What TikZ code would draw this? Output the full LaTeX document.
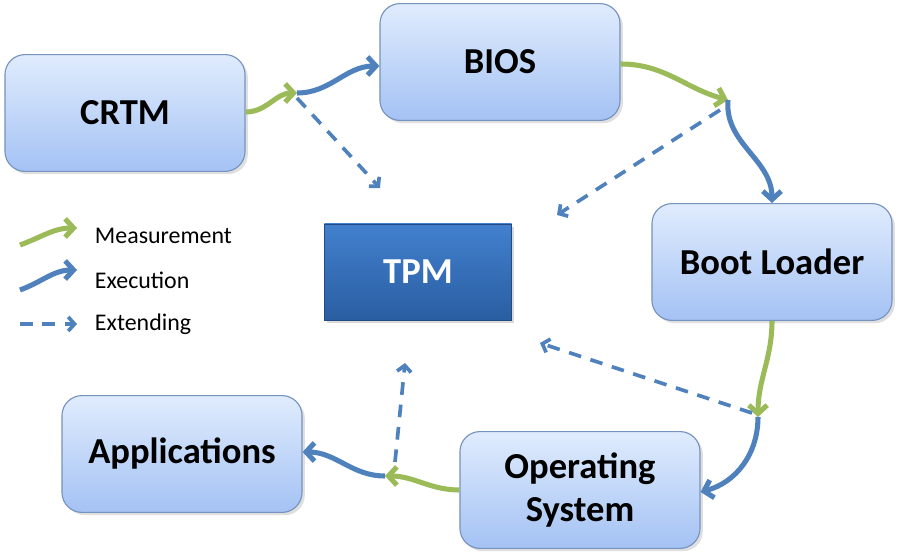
\documentclass[tikz,border=0pt]{standalone}
\usepackage{fontspec}
\setmainfont{Carlito}
\usetikzlibrary{arrows.meta,shadows}
\definecolor{measgreen}{RGB}{155,187,89}
\definecolor{execblue}{RGB}{79,129,189}
\definecolor{boxedge}{RGB}{118,146,190}
\definecolor{boxtop}{RGB}{224,236,253}
\definecolor{boxbot}{RGB}{164,194,244}
\definecolor{tpmtop}{RGB}{66,128,206}
\definecolor{tpmbot}{RGB}{42,94,162}
\tikzset{
  stage/.style={draw=boxedge, line width=0.8pt, rounded corners=0.5cm,
    top color=boxtop, bottom color=boxbot, minimum width=6cm, minimum height=2.92cm,
    align=center, font=\fontsize{26}{31}\selectfont\bfseries,
    drop shadow={opacity=0.25, shadow xshift=2pt, shadow yshift=-2pt}},
  tpmbox/.style={draw=tpmbot!80!black, line width=0.6pt, top color=tpmtop, bottom color=tpmbot,
    minimum width=4.675cm, minimum height=2.4cm, text=white,
    font=\fontsize{26}{30}\selectfont\bfseries,
    drop shadow={opacity=0.3, shadow xshift=2pt, shadow yshift=-2pt}},
  meas/.style={measgreen, line width=3.6pt, -{Straight Barb[length=6pt,width=13pt]}},
  exec/.style={execblue, line width=3.6pt, -{Straight Barb[length=6pt,width=13pt]}},
  extend/.style={execblue, line width=2.6pt, dash pattern=on 9pt off 7pt,
    -{Straight Barb[length=4.5pt,width=10pt]}},
  legtext/.style={anchor=west, font=\fontsize{17}{20}\selectfont}
}
\begin{document}
\begin{tikzpicture}[x=0.025cm,y=0.025cm]
  \useasboundingbox (0,0) rectangle (897,-556);
  %boxes
  \node[stage] (crtm) at (125,-113) {CRTM};
  \node[stage] (bios) at (500,-62) {BIOS};
  \node[stage] (boot) at (772,-262) {Boot Loader};
  \node[stage] (os) at (580,-490) {Operating\\System};
  \node[stage] (apps) at (182,-454) {Applications};
  \node[tpmbox] (tpm) at (418,-272) {TPM};
  %junctions
  \coordinate (j1) at (297,-93);
  \coordinate (j2) at (728,-100);
  \coordinate (j3) at (758,-417);
  \coordinate (j4) at (385,-476);
  %extend targets
  \coordinate (t1) at (380,-188);
  \coordinate (t2) at (557,-215);
  \coordinate (t3) at (540,-343);
  \coordinate (t4) at (405,-363);
  %chain
  \draw[meas] (crtm.east |- 0,-112) to[out=0,in=180] (j1);
  \draw[exec] (j1) to[out=0,in=180] (bios.west |- 0,-66);
  \draw[meas] (bios.east |- 0,-64) to[out=0,in=165] (j2);
  \draw[exec] (j2) to[out=-95,in=90] (boot.north);
  \draw[meas] (boot.south) to[out=-90,in=90] (j3);
  \draw[exec] (j3) to[out=-90,in=15] (os.east |- 0,-492);
  \draw[meas] (os.west) to[out=180,in=0] (j4);
  \draw[exec] (j4) to[out=180,in=0] (apps.east |- 0,-452);
  %extending
  \draw[extend] (297,-98) -- (t1);
  \draw[extend] (720,-110) -- (t2);
  \draw[extend] (752,-413) -- (t3);
  \draw[extend] (395,-462) -- (t4);
  %legend
  \coordinate (la) at (20,-245);
  \coordinate (lb) at (77,-228);
  \coordinate (lc) at (20,-290);
  \coordinate (ld) at (77,-270);
  \coordinate (le) at (20,-324);
  \coordinate (lf) at (77,-324);
  \draw[meas] (la) to[out=20,in=180] (lb);
  \draw[exec] (lc) to[out=20,in=180] (ld);
  \draw[extend] (le) -- (lf);
  \node[legtext] (lmeas) at (90,-236) {Measurement};
  \node[legtext] (lexec) at (90,-280) {Execution};
  \node[legtext] (lext) at (90,-324) {Extending};
\end{tikzpicture}
\end{document}
